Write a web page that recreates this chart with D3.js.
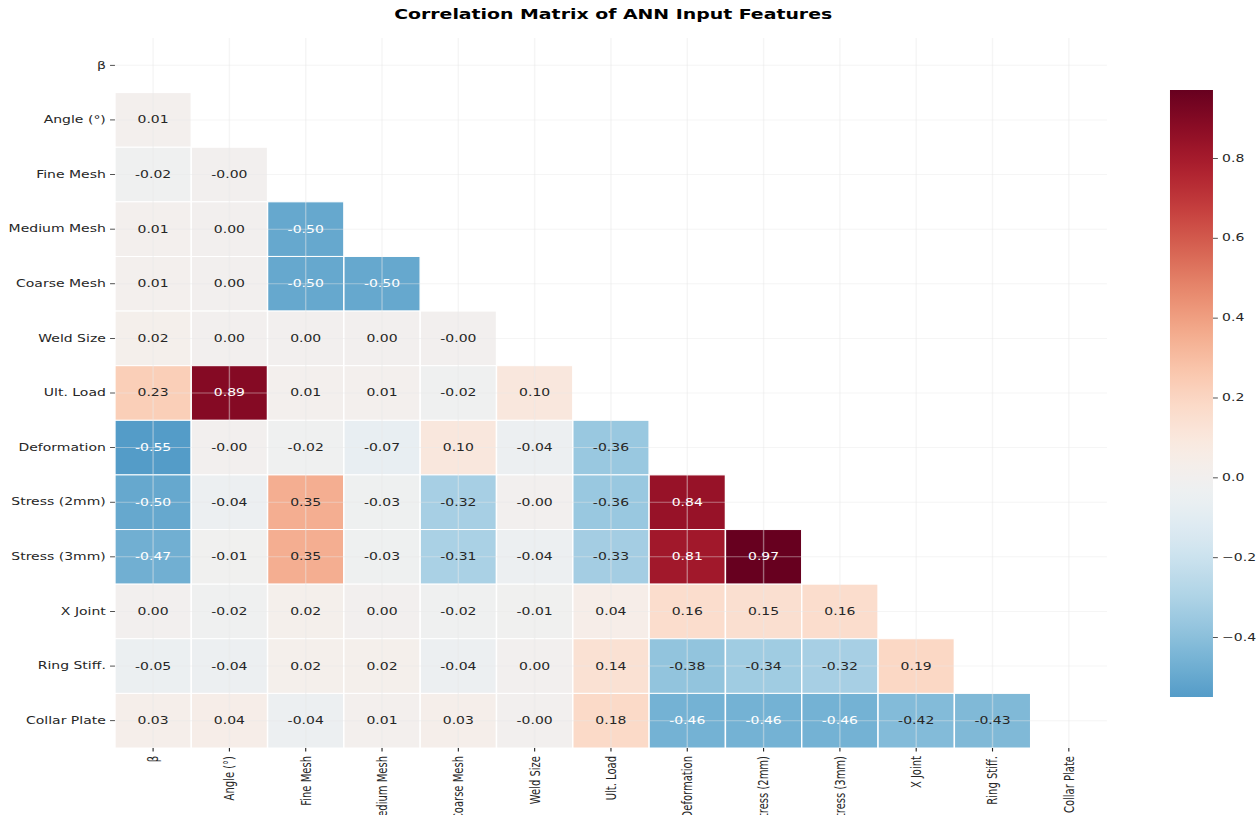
<!DOCTYPE html>
<html>
<head>
<meta charset="utf-8">
<script src="https://cdn.jsdelivr.net/npm/d3@7"></script>
<style>
  body { margin: 0; background: #fff; }
  svg { display: block; }
</style>
</head>
<body>
<svg id="chart"></svg>
<script>
// Feature names (rows and columns of the matrix)
const features = ["β", "Angle (°)", "Fine Mesh", "Medium Mesh", "Coarse Mesh", "Weld Size",
  "Ult. Load", "Deformation", "Stress (2mm)", "Stress (3mm)", "X Joint", "Ring Stiff.", "Collar Plate"];

// Lower-triangle correlations, one array per row (columns β … previous feature)
const corrBeta        = [];
const corrAngle       = [0.01];
const corrFineMesh    = [-0.02, -0.00];
const corrMediumMesh  = [0.01, 0.00, -0.50];
const corrCoarseMesh  = [0.01, 0.00, -0.50, -0.50];
const corrWeldSize    = [0.02, 0.00, 0.00, 0.00, -0.00];
const corrUltLoad     = [0.23, 0.89, 0.01, 0.01, -0.02, 0.10];
const corrDeformation = [-0.55, -0.00, -0.02, -0.07, 0.10, -0.04, -0.36];
const corrStress2     = [-0.50, -0.04, 0.35, -0.03, -0.32, -0.00, -0.36, 0.84];
const corrStress3     = [-0.47, -0.01, 0.35, -0.03, -0.31, -0.04, -0.33, 0.81, 0.97];
const corrXJoint      = [0.00, -0.02, 0.02, 0.00, -0.02, -0.01, 0.04, 0.16, 0.15, 0.16];
const corrRingStiff   = [-0.05, -0.04, 0.02, 0.02, -0.04, 0.00, 0.14, -0.38, -0.34, -0.32, 0.19];
const corrCollarPlate = [0.03, 0.04, -0.04, 0.01, 0.03, -0.00, 0.18, -0.46, -0.46, -0.46, -0.42, -0.43];

const colorbarTicks = [-0.4, -0.2, 0.0, 0.2, 0.4, 0.6, 0.8];

const lowerRows = [corrBeta, corrAngle, corrFineMesh, corrMediumMesh, corrCoarseMesh, corrWeldSize,
  corrUltLoad, corrDeformation, corrStress2, corrStress3, corrXJoint, corrRingStiff, corrCollarPlate];

const cells = [];
lowerRows.forEach((row, i) => row.forEach((v, j) => cells.push({ row: features[i], col: features[j], v })));

// Figure is drawn in a narrower coordinate space and stretched horizontally to the window
const W = 1256, H = 815, stretch = 1.4, NW = W / stretch;
const svg = d3.select("#chart")
  .attr("width", W).attr("height", H)
  .attr("viewBox", `0 0 ${NW} ${H}`)
  .attr("preserveAspectRatio", "none")
  .style("font-family", "'DejaVu Sans', sans-serif");

const plot = { left: 82.1, right: 790.7, top: 38, bottom: 748 };
const x = d3.scaleBand().domain(features).range([plot.left, plot.right]);
const y = d3.scaleBand().domain(features).range([plot.top, plot.bottom]);

const vmin = d3.min(cells, d => d.v), vmax = d3.max(cells, d => d.v);
const vrange = Math.max(Math.abs(vmin), Math.abs(vmax));
const color = v => d3.interpolateRdBu(0.5 - v / (2 * vrange));

function luminance(c) {
  const rgb = d3.rgb(c);
  const ch = [rgb.r, rgb.g, rgb.b].map(u => {
    u /= 255;
    return u <= 0.03928 ? u / 12.92 : Math.pow((u + 0.055) / 1.055, 2.4);
  });
  return 0.2126 * ch[0] + 0.7152 * ch[1] + 0.0722 * ch[2];
}
const fmt = v => ((v < 0 || Object.is(v, -0)) ? "-" : "") + Math.abs(v).toFixed(2);

// Heatmap cells
svg.append("g").selectAll("rect").data(cells).join("rect")
  .attr("x", d => x(d.col)).attr("y", d => y(d.row))
  .attr("width", x.bandwidth()).attr("height", y.bandwidth())
  .attr("fill", d => color(d.v))
  .attr("stroke", "#fff").attr("stroke-width", 1);

// Grid lines at tick positions, drawn over the cells
const grid = svg.append("g").attr("stroke", "#e8e8e8").attr("stroke-opacity", 0.45).attr("stroke-width", 1);
grid.selectAll("line.v").data(features).join("line").attr("class", "v")
  .attr("x1", d => x(d) + x.bandwidth() / 2).attr("x2", d => x(d) + x.bandwidth() / 2)
  .attr("y1", plot.top).attr("y2", plot.bottom);
grid.selectAll("line.h").data(features).join("line").attr("class", "h")
  .attr("y1", d => y(d) + y.bandwidth() / 2).attr("y2", d => y(d) + y.bandwidth() / 2)
  .attr("x1", plot.left).attr("x2", plot.right);

// Annotations
svg.append("g").selectAll("text").data(cells).join("text")
  .attr("x", d => x(d.col) + x.bandwidth() / 2)
  .attr("y", d => y(d.row) + y.bandwidth() / 2)
  .attr("text-anchor", "middle").attr("dy", "0.35em")
  .attr("font-size", 10)
  .attr("fill", d => luminance(color(d.v)) > 0.408 ? "#262626" : "#fff")
  .text(d => fmt(d.v));

// Axes
const yAxis = svg.append("g").attr("transform", `translate(${plot.left},0)`)
  .call(d3.axisLeft(y).tickSize(3.5).tickPadding(3));
const xAxis = svg.append("g").attr("transform", `translate(0,${plot.bottom})`)
  .call(d3.axisBottom(x).tickSize(3.5).tickPadding(3));
[yAxis, xAxis].forEach(g => {
  g.select(".domain").remove();
  g.selectAll(".tick line").attr("stroke", "#262626").attr("stroke-width", 0.8);
  g.selectAll(".tick text").attr("fill", "#262626").attr("font-size", 10)
    .attr("font-family", "'DejaVu Sans', sans-serif");
});
xAxis.selectAll(".tick text")
  .attr("transform", "rotate(-90)")
  .attr("text-anchor", "end")
  .attr("x", -8).attr("y", 0).attr("dy", "0.35em");

// Colorbar
const cb = { x: 835.7, w: 30.7, top: 90, bottom: 697 };
const cbY = d3.scaleLinear().domain([vmin, vmax]).range([cb.bottom, cb.top]);
const grad = svg.append("defs").append("linearGradient").attr("id", "cbGrad")
  .attr("x1", 0).attr("y1", 1).attr("x2", 0).attr("y2", 0);
d3.range(0, 1.0001, 0.02).forEach(t => {
  grad.append("stop").attr("offset", t).attr("stop-color", color(vmin + t * (vmax - vmin)));
});
svg.append("rect").attr("x", cb.x).attr("y", cb.top)
  .attr("width", cb.w).attr("height", cb.bottom - cb.top).attr("fill", "url(#cbGrad)");
const cbAxis = svg.append("g").attr("transform", `translate(${cb.x + cb.w},0)`)
  .call(d3.axisRight(cbY).tickValues(colorbarTicks).tickFormat(d3.format(".1f")).tickSize(3.5).tickPadding(3));
cbAxis.select(".domain").remove();
cbAxis.selectAll(".tick line").attr("stroke", "#262626").attr("stroke-width", 0.8);
cbAxis.selectAll(".tick text").attr("fill", "#262626").attr("font-size", 10)
  .attr("font-family", "'DejaVu Sans', sans-serif");

// Title
svg.append("text").attr("x", 438).attr("y", 19.5)
  .attr("text-anchor", "middle").attr("font-size", 13.5).attr("font-weight", "bold")
  .attr("fill", "#000")
  .text("Correlation Matrix of ANN Input Features");
</script>
</body>
</html>
